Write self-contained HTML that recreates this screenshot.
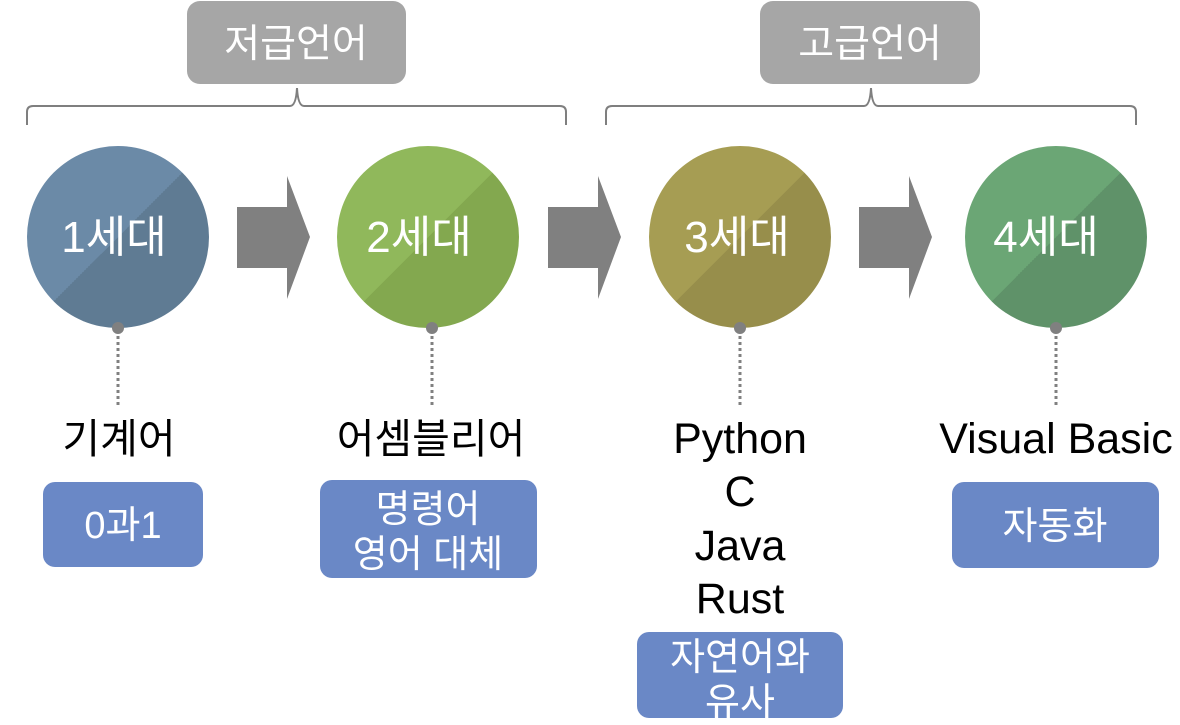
<!DOCTYPE html>
<html><head><meta charset="utf-8"><style>
html,body{margin:0;padding:0;background:#fff;width:1180px;height:725px;overflow:hidden}
svg text{font-family:"Liberation Sans","Noto Sans CJK KR",sans-serif}
</style></head><body>
<svg width="1180" height="725" viewBox="0 0 1180 725" xmlns="http://www.w3.org/2000/svg">
<defs>
<linearGradient id="g1" x1="0" y1="0" x2="1" y2="1"><stop offset="0.5" stop-color="#6b8aa7"/><stop offset="0.5" stop-color="#5f7b93"/></linearGradient>
<linearGradient id="g2" x1="0" y1="0" x2="1" y2="1"><stop offset="0.5" stop-color="#90b85b"/><stop offset="0.5" stop-color="#83a84f"/></linearGradient>
<linearGradient id="g3" x1="0" y1="0" x2="1" y2="1"><stop offset="0.5" stop-color="#a69d53"/><stop offset="0.5" stop-color="#978e4b"/></linearGradient>
<linearGradient id="g4" x1="0" y1="0" x2="1" y2="1"><stop offset="0.5" stop-color="#6ba675"/><stop offset="0.5" stop-color="#5f9269"/></linearGradient>
</defs>
<rect x="187" y="1" width="219" height="83" rx="13" fill="#a6a6a6"/>
<text x="296" y="57" font-size="39" fill="#fff" text-anchor="middle">저급언어</text>
<rect x="760" y="1" width="220" height="83" rx="13" fill="#a6a6a6"/>
<text x="870" y="57" font-size="39" fill="#fff" text-anchor="middle">고급언어</text>
<path d="M27 125 V112 Q27 106 33 106 H290 Q296 106 297 88 Q298 106 304 106 H560 Q566 106 566 112 V125" fill="none" stroke="#7f7f7f" stroke-width="2"/>
<path d="M606 125 V112 Q606 106 612 106 H864 Q870 106 871 88 Q872 106 878 106 H1130 Q1136 106 1136 112 V125" fill="none" stroke="#7f7f7f" stroke-width="2"/>
<g fill="#808080">
<polygon points="237,207 287,207 287,176 310,237 287,299 287,268 237,268"/>
<polygon points="548,207 598,207 598,176 621,237 598,299 598,268 548,268"/>
<polygon points="859,207 909,207 909,176 932,237 909,299 909,268 859,268"/>
</g>
<circle cx="118" cy="237" r="91" fill="url(#g1)"/>
<circle cx="428" cy="237" r="91" fill="url(#g2)"/>
<circle cx="740" cy="237" r="91" fill="url(#g3)"/>
<circle cx="1056" cy="237" r="91" fill="url(#g4)"/>
<g font-size="44" fill="#fff" text-anchor="middle">
<text x="114" y="252">1세대</text>
<text x="419" y="252">2세대</text>
<text x="737" y="252">3세대</text>
<text x="1046" y="252">4세대</text>
</g>
<g stroke="#808080" stroke-width="3" stroke-dasharray="3,3">
<line x1="118" y1="330" x2="118" y2="405"/>
<line x1="432" y1="330" x2="432" y2="405"/>
<line x1="740" y1="330" x2="740" y2="405"/>
<line x1="1056" y1="330" x2="1056" y2="405"/>
</g>
<g fill="#808080">
<circle cx="118" cy="328" r="6"/><circle cx="432" cy="328" r="6"/><circle cx="740" cy="328" r="6"/><circle cx="1056" cy="328" r="6"/>
</g>
<g font-size="43" fill="#000" text-anchor="middle">
<text x="740" y="453">Python</text>
<text x="740" y="506">C</text>
<text x="740" y="560">Java</text>
<text x="740" y="613">Rust</text>
<text x="1056" y="453">Visual Basic</text>
</g>
<g font-size="41" fill="#000" text-anchor="middle">
<text x="119" y="453">기계어</text>
<text x="431" y="453">어셈블리어</text>
</g>
<g fill="#6a88c6">
<rect x="43" y="482" width="160" height="85" rx="12"/>
<rect x="320" y="480" width="217" height="98" rx="12"/>
<rect x="637" y="632" width="206" height="86" rx="12"/>
<rect x="952" y="482" width="207" height="86" rx="12"/>
</g>
<g font-size="38" fill="#fff" text-anchor="middle">
<text x="123" y="538">0과1</text>
<text x="428" y="522">명령어</text>
<text x="428" y="567">영어 대체</text>
<text x="740" y="670">자연어와</text>
<text x="740" y="715">유사</text>
<text x="1055" y="539">자동화</text>
</g>
</svg>
</body></html>
